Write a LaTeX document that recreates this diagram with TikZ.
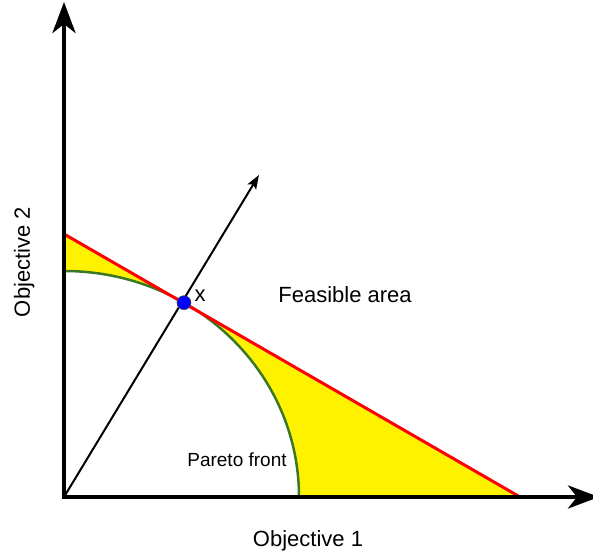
\documentclass[tikz,border=0pt]{standalone}
\usepackage{fontspec}
\setmainfont{Liberation Sans}
\usetikzlibrary{arrows.meta}
\definecolor{frontgreen}{RGB}{58,120,38}
\definecolor{dotblue}{RGB}{0,0,255}
\begin{document}
\begin{tikzpicture}[x=1pt,y=1pt,
  axisline/.style={line width=4.5pt,line cap=rect,-{Stealth[length=31pt,width=23pt,inset=9pt]}},
  txt/.style={inner sep=0pt,font=\fontsize{22}{26}\selectfont},
  dot/.style={circle,fill=dotblue,draw=black!70,line width=0.6pt,minimum size=14pt,inner sep=0pt}]
\useasboundingbox (-64,-56) rectangle (529,497);
% points of the picture
\coordinate (O) at (0,0);
\coordinate (xtip) at (535,0);
\coordinate (ytip) at (0,495);
\coordinate (lineleft) at (0,263);
\coordinate (lineright) at (456,0);
\coordinate (fronttop) at (0,226);
\coordinate (frontfoot) at (235,0);
\coordinate (P) at ({235*cos(59.3)},{226*sin(59.3)});
\coordinate (dirtip) at (195,322);
% area between the front and the line
\fill[yellow] (lineleft)--(lineright)--(frontfoot)
  arc[start angle=0,end angle=90,x radius=235,y radius=226]--cycle;
\draw[frontgreen,line width=2.5pt] (fronttop)
  arc[start angle=90,end angle=0,x radius=235,y radius=226];
\draw[red,line width=3pt] (lineleft)--(lineright);
\draw[line width=2pt,-{Stealth[length=14pt,width=10pt,inset=3pt]}] (O)--(dirtip);
% axes
\draw[axisline] (O)--(xtip);
\draw[axisline] (O)--(ytip);
\node[dot] (x) at (P) {};
% texts
\node[txt] (xlabel) at (136,201) {x};
\node[txt] (feasible) at (281,202) {Feasible area};
\node[txt,font=\fontsize{19}{23}\selectfont] (pareto) at (173,37) {Pareto front};
\node[txt,anchor=base] (obj1) at (244,-49) {Objective 1};
\node[txt,anchor=base,rotate=90] (obj2) at (-34,235) {Objective 2};
\end{tikzpicture}
\end{document}
